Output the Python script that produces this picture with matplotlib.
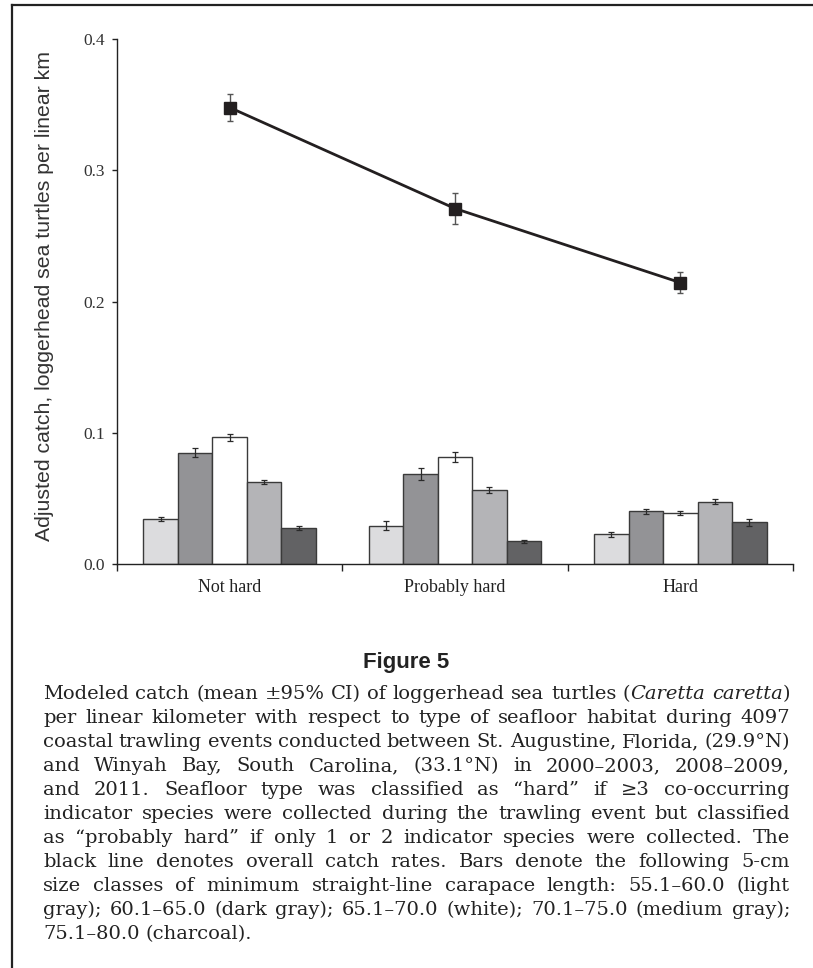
import re
import matplotlib
matplotlib.use("Agg")
import matplotlib.pyplot as plt
from matplotlib.lines import Line2D
import numpy as np

categories = ["Not hard", "Probably hard", "Hard"]
size_classes = ["55.1–60.0", "60.1–65.0", "65.1–70.0", "70.1–75.0", "75.1–80.0"]
bar_colors = ["#dcdcde", "#939396", "#ffffff", "#b4b4b7", "#626264"]

# mean catch of each size class, one list per seafloor type
class_means = [
    [0.0343, 0.0849, 0.0966, 0.0625, 0.0272],
    [0.0290, 0.0686, 0.0816, 0.0562, 0.0173],
    [0.0226, 0.0401, 0.0389, 0.0475, 0.0318],
]
class_ci = [
    [0.0019, 0.0037, 0.0028, 0.0015, 0.0014],
    [0.0034, 0.0043, 0.0037, 0.0024, 0.0011],
    [0.0019, 0.0022, 0.0014, 0.0019, 0.0028],
]

overall_mean = [0.348, 0.271, 0.2145]
overall_ci = [0.010, 0.0117, 0.0079]

y_ticks = [0.0, 0.1, 0.2, 0.3, 0.4]
y_label = "Adjusted catch, loggerhead sea turtles per linear km"

fig_title = "Figure 5"
# *...* marks italic
caption_lines = [
    "Modeled catch (mean ±95% CI) of loggerhead sea turtles (*Caretta* *caretta*)",
    "per linear kilometer with respect to type of seafloor habitat during 4097",
    "coastal trawling events conducted between St. Augustine, Florida, (29.9°N)",
    "and Winyah Bay, South Carolina, (33.1°N) in 2000–2003, 2008–2009,",
    "and 2011. Seafloor type was classified as “hard” if ≥3 co-occurring",
    "indicator species were collected during the trawling event but classified",
    "as “probably hard” if only 1 or 2 indicator species were collected. The",
    "black line denotes overall catch rates. Bars denote the following 5-cm",
    "size classes of minimum straight-line carapace length: 55.1–60.0 (light",
    "gray); 60.1–65.0 (dark gray); 65.1–70.0 (white); 70.1–75.0 (medium gray);",
    "75.1–80.0 (charcoal).",
]

W, H = 813, 968
fig = plt.figure(figsize=(W / 100, H / 100), dpi=100)
ax = fig.add_axes([117 / W, (H - 564) / H, (793 - 117) / W, (564 - 39.3) / H])

x = np.arange(len(categories))
bw = 0.153
for i, col in enumerate(bar_colors):
    vals = [m[i] for m in class_means]
    errs = [c[i] for c in class_ci]
    ax.bar(x + (i - 2) * bw, vals, bw, color=col, edgecolor="#3a3a3a", linewidth=1.0,
           yerr=errs, capsize=2.2,
           error_kw=dict(ecolor="#2a2a2a", elinewidth=0.9, capthick=0.9),
           label=size_classes[i])

ax.errorbar(x, overall_mean, yerr=overall_ci, fmt="s-", color="#231f20", lw=2.0,
            ms=8.5, ecolor="#555555", elinewidth=1.0, capsize=2.0, capthick=1.0, zorder=5)

ax.set_xlim(-0.5, 2.5)
ax.set_ylim(0, 0.4)
ax.set_yticks(y_ticks)
ax.set_yticklabels([f"{v:.1f}" for v in y_ticks], family="Liberation Serif",
                   fontsize=12.5, color="#333333")
ax.set_xticks([-0.5, 0.5, 1.5, 2.5])
ax.set_xticklabels([])
ax.set_xticks(x, minor=True)
ax.set_xticklabels(categories, minor=True, family="Liberation Serif", fontsize=13,
                   color="#222222")
ax.tick_params(axis="x", which="major", direction="out", length=5, width=1, color="#222222")
ax.tick_params(axis="x", which="minor", length=0, pad=11)
ax.tick_params(axis="y", direction="out", length=3.5, width=1, pad=5, color="#222222")
for s in ["top", "right"]:
    ax.spines[s].set_visible(False)
for s in ["left", "bottom"]:
    ax.spines[s].set_color("#222222")
    ax.spines[s].set_linewidth(1.0)

fig.text(45 / W, 1 - 296 / H, y_label, rotation=90, ha="center", va="center",
         family="Liberation Sans", fontsize=15.3, color="#333333")

# frame around the figure
fig.add_artist(Line2D([11.5 / W, 1], [1 - 5 / H, 1 - 5 / H], color="#222222", lw=1.6))
fig.add_artist(Line2D([11.5 / W, 11.5 / W], [0, 1 - 5 / H], color="#222222", lw=1.6))

fig.text(406 / W, 1 - 668 / H, fig_title, ha="center", va="baseline",
         family="Liberation Sans", weight="bold", fontsize=16, color="#222222")

# justified caption
cap_font = "DejaVu Serif"
cap_size = 14
left, right = 43, 790
fig.canvas.draw()
renderer = fig.canvas.get_renderer()


def seg_width(text, style):
    t = fig.text(0, 0, text, family=cap_font, fontsize=cap_size, style=style)
    w = t.get_window_extent(renderer).width
    t.remove()
    return w


space_w = seg_width("a a", "normal") - 2 * seg_width("a", "normal")

for k, line in enumerate(caption_lines):
    base = 699 + 24 * k
    words = []
    for word in line.split(" "):
        parts = re.split(r"\*", word)
        segs = [(p, "italic" if j % 2 else "normal") for j, p in enumerate(parts) if p]
        widths = [seg_width(p, st) for p, st in segs]
        words.append((segs, widths))
    total = sum(sum(w) for _, w in words)
    if k < len(caption_lines) - 1 and len(words) > 1:
        gap = (right - left - total) / (len(words) - 1)
    else:
        gap = space_w
    xpos = left
    for segs, widths in words:
        for (p, st), w in zip(segs, widths):
            fig.text(xpos / W, 1 - base / H, p, family=cap_font, fontsize=cap_size,
                     style=st, va="baseline", ha="left", color="#222222")
            xpos += w
        xpos += gap

fig.savefig("out.png", dpi=100)
